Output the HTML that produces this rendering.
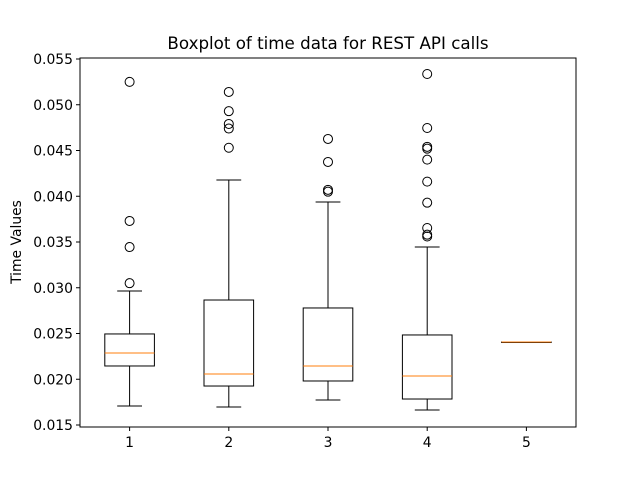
<!DOCTYPE html>
<html><head><meta charset="utf-8"><style>body{margin:0;background:#fff}svg{display:block}text{font-family:"DejaVu Sans","Liberation Sans",sans-serif;fill:#000}</style></head>
<body>
<svg id="chart" width="640" height="480" xmlns="http://www.w3.org/2000/svg">
<rect width="640" height="480" fill="#fff"/>
<text x="328" y="49" font-size="16.7" text-anchor="middle">Boxplot of time data for REST API calls</text>
<text transform="translate(21,242) rotate(-90)" font-size="13.9" text-anchor="middle">Time Values</text>
<g id="plot"></g>
</svg>
<script>
const categories = ["1","2","3","4","5"];
const whiskerLow = [0.01708,0.01697,0.01773,0.01664,0.02407];
const q1 = [0.02145,0.01926,0.01981,0.01784,0.02407];
const median = [0.02287,0.02057,0.02145,0.02036,0.02407];
const q3 = [0.02495,0.02866,0.02779,0.02484,0.02407];
const whiskerHigh = [0.02965,0.04178,0.03937,0.03445,0.02407];
const outliers = [
 [0.0525,0.0373,0.03445,0.0305],
 [0.0514,0.0493,0.0479,0.0474,0.0453],
 [0.04626,0.04375,0.0407,0.0405],
 [0.05336,0.04746,0.0454,0.0452,0.0440,0.0416,0.0393,0.03653,0.0358,0.0356],
 []
];
const yTicks = [0.015,0.020,0.025,0.030,0.035,0.040,0.045,0.050,0.055];
const yTickLabels = ["0.015","0.020","0.025","0.030","0.035","0.040","0.045","0.050","0.055"];

const L=80,R=576,T=58,B=427;
const y = v => 425 - (v-0.015)/0.005*45.75;
const x = i => L + (i+0.5)*(R-L)/5;
const ns="http://www.w3.org/2000/svg";
const g=document.getElementById('plot');
function mk(tag,attrs){const e=document.createElementNS(ns,tag);for(const k in attrs)e.setAttribute(k,attrs[k]);g.appendChild(e);return e;}
const ax=mk('rect',{x:L,y:T,width:R-L,height:B-T,fill:'none',stroke:'#000','stroke-width':1});


yTicks.forEach((v,i)=>{
 const t=mk('line',{x1:L-4,x2:L,y1:y(v),y2:y(v),stroke:'#000'});
 
 
 const tx=mk('text',{x:L-7,y:y(v)+5,'font-size':13.9,'text-anchor':'end'});tx.textContent=yTickLabels[i];
 
 
});
categories.forEach((c,i)=>{
 const cx=x(i),hw=(R-L)/5*0.25,cw=hw/2;
 const t=mk('line',{x1:cx,x2:cx,y1:B,y2:B+4,stroke:'#000'});
 
 
 const tx=mk('text',{x:cx,y:B+20,'font-size':13.9,'text-anchor':'middle'});tx.textContent=c;
 
 
 const w1=mk('line',{x1:cx,x2:cx,y1:y(whiskerLow[i]),y2:y(q1[i]),stroke:'#000'});
 
 
 const w2=mk('line',{x1:cx,x2:cx,y1:y(q3[i]),y2:y(whiskerHigh[i]),stroke:'#000'});
 
 
 const c1=mk('line',{x1:cx-cw,x2:cx+cw,y1:y(whiskerLow[i]),y2:y(whiskerLow[i]),stroke:'#000'});
 
 
 const c2=mk('line',{x1:cx-cw,x2:cx+cw,y1:y(whiskerHigh[i]),y2:y(whiskerHigh[i]),stroke:'#000'});
 
 
 const bx=mk('rect',{x:cx-hw,y:y(q3[i]),width:2*hw,height:Math.max(0.5,y(q1[i])-y(q3[i])),fill:'none',stroke:'#000'});
 
 
 const md=mk('line',{x1:cx-hw,x2:cx+hw,y1:y(median[i]),y2:y(median[i]),stroke:'#ff7f0e'});
 
 
 outliers[i].forEach(v=>{
  const o=mk('circle',{cx:cx,cy:y(v),r:4.5,fill:'none',stroke:'#000'});
  
  
 });
});
</script>
</body></html>
